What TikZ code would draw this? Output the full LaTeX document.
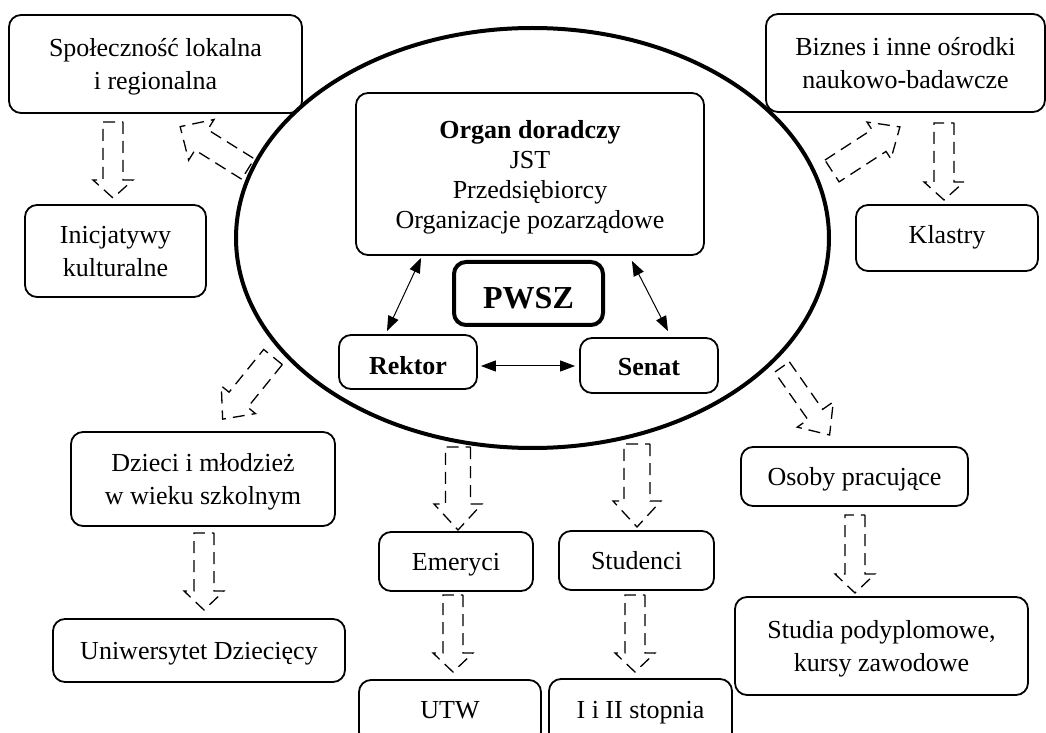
\documentclass[tikz,border=0pt]{standalone}
\usepackage{fontspec}
\setmainfont{Liberation Serif}
\usetikzlibrary{arrows.meta,shapes.geometric}

\tikzset{
  box/.style={draw, rounded corners=6pt, line width=0.9pt, align=center, inner sep=2pt, text depth=0pt, font=\fontsize{13}{16.5}\selectfont},
  hollow/.style={dash pattern=on 6pt off 3.5pt, line width=0.65pt},
  link/.style={{Triangle[length=7.5pt,width=5.5pt]}-{Triangle[length=7.5pt,width=5.5pt]}, line width=0.5pt}
}
% hollow dashed arrow: tail, angle, length, half shaft, half head, head length
\newcommand{\blockarrow}[6]{%
  \draw[hollow, shift={(#1)}, rotate=#2] (0,-#4) -- ({#3-#6},-#4) -- ({#3-#6},-#5) -- (#3,0)
    -- ({#3-#6},#5) -- ({#3-#6},#4) -- (0,#4) -- cycle;}

\begin{document}
\begin{tikzpicture}[x=0.5pt, y=-0.5pt]
    \clip (0,0) rectangle (1046,733);

    % PWSZ
    \node[ellipse, draw, line width=2pt, minimum width=296.5pt, minimum height=210pt] (uczelnia) at (532.5,238) {};
    \node[box, minimum width=174pt, minimum height=81pt, font=\fontsize{13}{15}\selectfont] (organ) at (530,174)
        {\textbf{Organ doradczy}\\JST\\Przedsiębiorcy\\Organizacje pozarządowe};
    \node[box, line width=2pt, minimum width=74.5pt, minimum height=31.5pt, text height=15pt, font=\fontsize{16}{19}\bfseries] (pwsz) at (528.5,293.5) {PWSZ};
    \node[box, minimum width=69pt, minimum height=27pt, text height=12pt, font=\fontsize{13}{16}\bfseries] (rektor) at (408,362) {Rektor};
    \node[box, minimum width=69pt, minimum height=27.5pt, text height=10.5pt, font=\fontsize{13}{16}\bfseries] (senat) at (649,365.5) {Senat};

    \draw[link] ([xshift=33pt,yshift=-1pt]organ.south west) -- ([xshift=-10.5pt,yshift=1.5pt]rektor.north);
    \draw[link] ([xshift=-36.5pt,yshift=-2.5pt]organ.south east) -- ([xshift=9.5pt,yshift=3pt]senat.north);
    \draw[link] ([xshift=1.5pt,yshift=-2pt]rektor.east) -- ([xshift=-2pt,yshift=-0.25pt]senat.west);

    % otoczenie
    \node[box, minimum width=146.5pt, minimum height=49pt] (spolecznosc) at (155.5,64) {Społeczność lokalna\\i regionalna};
    \node[box, minimum width=139.5pt, minimum height=49pt] (biznes) at (905.5,63) {Biznes i inne ośrodki\\naukowo-badawcze};
    \node[box, minimum width=90.5pt, minimum height=46pt] (inicjatywy) at (115.5,251) {Inicjatywy\\kulturalne};
    \node[box, minimum width=91pt, minimum height=33pt, text height=5pt] (klastry) at (947,238) {Klastry};
    \node[box, minimum width=132pt, minimum height=47pt] (dzieci) at (203,479) {Dzieci i młodzież\\w wieku szkolnym};
    \node[box, minimum width=146pt, minimum height=31.5pt] (uniwersytet) at (199,650.5) {Uniwersytet Dziecięcy};
    \node[box, minimum width=77pt, minimum height=29.5pt] (emeryci) at (456,561.5) {Emeryci};
    \node[box, minimum width=77.5pt, minimum height=29.5pt] (studenci) at (636.5,560.5) {Studenci};
    \node[box, minimum width=91pt, minimum height=32pt, text height=6pt] (utw) at (450,712) {UTW};
    \node[box, minimum width=91.5pt, minimum height=33pt, text height=6pt] (stopnie) at (640.5,712) {I i II stopnia};
    \node[box, minimum width=113.5pt, minimum height=29.5pt] (pracujacy) at (854.5,476.5) {Osoby pracujące};
    \node[box, minimum width=146.5pt, minimum height=49pt] (podyplomowe) at (881.5,646) {Studia podyplomowe,\\kursy zawodowe};

    % kierunki oddzialywania
    \blockarrow{113,122}{-90}{76}{10}{20}{18}
    \blockarrow{248,169}{148}{80}{12}{24}{25}
    \blockarrow{832,171}{33}{81}{13}{22}{25}
    \blockarrow{944,123}{-90}{77}{10}{20}{18}
    \blockarrow{273,357}{231}{80}{12}{22}{25}
    \blockarrow{204,533}{-90}{77}{10}{20}{19}
    \blockarrow{458,447}{-90}{83}{12.5}{24}{26}
    \blockarrow{637,444}{-90}{83}{13}{24}{26}
    \blockarrow{453,595}{-90}{77}{10}{20}{19}
    \blockarrow{635,595}{-90}{77}{10}{20}{19}
    \blockarrow{782,367}{-55}{83}{9}{22}{25}
    \blockarrow{855,515}{-90}{78}{10}{20}{19}
\end{tikzpicture}
\end{document}
